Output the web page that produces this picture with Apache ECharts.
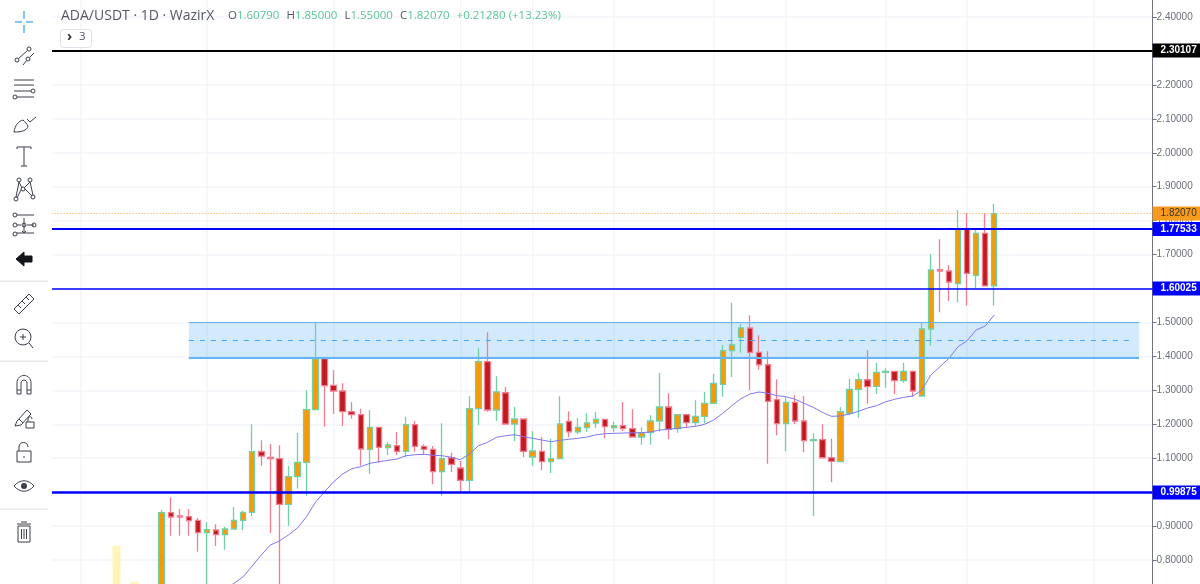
<!DOCTYPE html>
<html style="height: 100%">
<head>
  <meta charset="utf-8">
  <title>ADA/USDT</title>
</head>
<body style="height: 100%; margin: 0; background: #fff">
<div id="container" style="width: 1200px; height: 584px"></div>
<script src="https://cdn.jsdelivr.net/npm/echarts@6/dist/echarts.min.js"></script>
<script>
  // one slot per day, the first candles of the chart start at leadDays
  var leadDays = 12;
  var totalDays = 122;
  var days = [];
  for (var d = 0; d < totalDays; d++) days.push(String(d));

  var opens = [0.72,0.9395,0.9298,0.9277,0.9171,0.8806,0.8885,0.8747,0.8915,0.9171,0.9406,1.1192,1.1027,1.0986,0.9642,1.0456,1.0880,1.2430,1.3932,1.3149,1.2981,1.2371,1.2283,1.1263,1.1911,1.1310,1.1369,1.1204,1.1988,1.1351,1.1263,1.0603,1.1015,1.0712,1.0349,1.2459,1.3844,1.2421,1.2930,1.2008,1.2156,1.1036,1.1204,1.0898,1.0986,1.2088,1.1781,1.1899,1.2038,1.2147,1.1899,1.1958,1.1870,1.1625,1.1752,1.2097,1.2509,1.1870,1.2282,1.2047,1.2235,1.2618,1.3178,1.4168,1.4563,1.4837,1.4121,1.3755,1.2724,1.2017,1.2648,1.2097,1.1516,1.1546,1.1015,1.0898,1.2324,1.3030,1.3313,1.3119,1.3532,1.3561,1.3284,1.3561,1.2833,1.4807,1.6555,1.6516,1.6142,1.7763,1.6390,1.7627,1.6079];
  var closes = [0.9395,0.9268,0.9268,0.9159,0.8806,0.8894,0.8747,0.8915,0.9171,0.9406,1.1192,1.1065,1.0986,0.9642,1.0456,1.0880,1.2430,1.3932,1.3137,1.2981,1.2371,1.2283,1.1272,1.1911,1.1322,1.1390,1.1204,1.1988,1.1351,1.1263,1.0603,1.0986,1.0821,1.0349,1.2459,1.3844,1.2421,1.2951,1.2008,1.2156,1.1204,1.1213,1.0898,1.0986,1.2008,1.1781,1.1911,1.2038,1.2147,1.1929,1.1958,1.1870,1.1625,1.1752,1.2097,1.2509,1.1852,1.2282,1.2047,1.2235,1.2618,1.3208,1.4168,1.4336,1.4837,1.4121,1.3755,1.2677,1.2017,1.2648,1.2097,1.1516,1.1546,1.1015,1.0909,1.2371,1.3030,1.3313,1.3107,1.3532,1.3561,1.3284,1.3561,1.2981,1.4807,1.6546,1.6516,1.6192,1.7763,1.6449,1.7627,1.6079,1.8207];
  var lows = [0.71,0.8717,0.8717,0.8717,0.8246,0.72,0.8414,0.8305,0.8915,0.8876,0.9298,1.0780,0.8797,0.72,0.9012,1.0102,0.9895,1.2430,1.1928,1.2312,1.1949,1.2164,1.0780,1.0544,1.0868,1.1095,1.1095,1.1027,1.1192,1.1104,1.0232,0.9895,1.0594,0.9984,0.9984,1.1979,1.2371,1.2106,1.2008,1.1507,1.1036,1.0780,1.0644,1.0565,1.0986,1.1616,1.1714,1.1781,1.1890,1.1587,1.1772,1.1802,1.1625,1.1398,1.1398,1.1781,1.1557,1.1752,1.1899,1.1941,1.2029,1.2618,1.2813,1.3393,1.4109,1.3001,1.3608,1.0838,1.1675,1.1204,1.2008,1.1175,0.9298,1.0986,1.0291,1.0898,1.2265,1.2194,1.2607,1.2892,1.3078,1.2892,1.3225,1.2813,1.2833,1.4306,1.5300,1.5632,1.5594,1.5494,1.5995,1.6079,1.55];
  var highs = [0.9474,0.9848,0.9504,0.9504,0.9230,0.9112,0.9053,0.8982,0.9563,0.9454,1.2000,1.1528,1.1419,1.1381,1.0771,1.1743,1.3000,1.4993,1.3932,1.3590,1.3208,1.2648,1.2459,1.2421,1.1911,1.1478,1.1773,1.2214,1.2097,1.1410,1.1360,1.2029,1.1163,1.0918,1.2824,1.4239,1.4710,1.3414,1.3098,1.2518,1.2156,1.1793,1.1634,1.1575,1.2824,1.2383,1.2185,1.2323,1.2362,1.2147,1.2076,1.2657,1.2442,1.1911,1.2265,1.3511,1.2913,1.2282,1.2282,1.2707,1.2951,1.3482,1.4336,1.5582,1.4955,1.5211,1.4622,1.4150,1.3325,1.2795,1.2854,1.2833,1.1734,1.2000,1.1575,1.2500,1.3334,1.3511,1.4180,1.3815,1.3650,1.3561,1.3815,1.3590,1.5005,1.7008,1.7450,1.6693,1.8314,1.8216,1.7745,1.8216,1.85];

  // moving average, first value sits on the 8th candle
  var maValues = [0.7147,0.7315,0.7509,0.7825,0.8149,0.8443,0.8561,0.8738,0.8944,0.9277,0.9710,1.0014,1.0308,1.0535,1.0691,1.0750,1.0850,1.0898,1.0939,1.0977,1.1074,1.1104,1.1116,1.1086,1.1074,1.1027,1.0956,1.1124,1.1369,1.1469,1.1616,1.1664,1.1693,1.1634,1.1587,1.1537,1.1487,1.1528,1.1558,1.1587,1.1625,1.1690,1.1723,1.1734,1.1743,1.1752,1.1752,1.1773,1.1831,1.1852,1.1882,1.1911,1.1941,1.2000,1.2126,1.2324,1.2548,1.2754,1.2892,1.2951,1.2913,1.2842,1.2813,1.2736,1.2618,1.2500,1.2353,1.2235,1.2244,1.2303,1.2383,1.2480,1.2548,1.2662,1.2736,1.2795,1.2833,1.3010,1.3452,1.3697,1.3944,1.4286,1.4463,1.4778,1.4896,1.5220];
  var maStart = 7;

  var volumeDays = [7, 9];
  var volumeValues = [7.9, 2.0];

  var gridDays = [3, 17, 31, 45, 53, 62, 73, 81, 92, 101, 115];

  var zoneTop = 1.4995, zoneMid = 1.448, zoneBottom = 1.3962;
  var zoneFrom = '15', zoneTo = '120';

  var lastPrice = 1.8207;
  var blackLevel = 2.30107;
  var blueLevels = [1.77533, 1.60025, 0.99875];
  var blueWidths = [2, 1.5, 2.5];

  var candleData = [], maData = [], volumeData = [];
  for (var i = 0; i < totalDays; i++) {
    var k = i - leadDays;
    candleData.push(k >= 0 && k < opens.length ? [opens[k], closes[k], lows[k], highs[k]] : '-');
    var m = k - maStart;
    maData.push(m >= 0 && m < maValues.length ? maValues[m] : '-');
    var v = volumeDays.indexOf(i);
    volumeData.push(v >= 0 ? volumeValues[v] : '-');
  }

  function levelLine(value, color, width, textColor) {
    return {
      yAxis: value,
      lineStyle: { color: color, width: width, type: 'solid' },
      label: {
        show: true, position: 'end', distance: 0,
        formatter: value.toFixed(5),
        color: textColor, backgroundColor: color,
        fontFamily: 'Liberation Sans', fontSize: 10, fontWeight: 'bold',
        padding: [2, 6, 2, 8], lineHeight: 10
      }
    };
  }

  function segment(value, style) {
    return [
      { coord: [zoneFrom, value], lineStyle: style, label: { show: false } },
      { coord: [zoneTo, value] }
    ];
  }

  var priceLines = [
    levelLine(blackLevel, '#000000', 2, '#ffffff'),
    {
      yAxis: lastPrice,
      lineStyle: { color: '#f2a33a', width: 1, type: [1, 2] },
      label: {
        show: true, position: 'end', distance: 0, formatter: lastPrice.toFixed(5),
        color: '#3a3420', backgroundColor: '#f79a1d',
        fontFamily: 'Liberation Sans', fontSize: 10,
        padding: [2, 6, 2, 8], lineHeight: 10
      }
    }
  ];
  blueLevels.forEach(function (lv, n) {
    priceLines.push(levelLine(lv, '#0000ff', blueWidths[n], '#ffffff'));
  });
  priceLines.push(segment(zoneTop, { color: '#64b5f6', width: 1.2, type: 'solid' }));
  priceLines.push(segment(zoneBottom, { color: '#64b5f6', width: 2, type: 'solid' }));
  priceLines.push([
    { coord: [zoneFrom, zoneMid], lineStyle: { color: '#42a5f5', width: 1, type: [5, 6] }, label: { show: false } },
    { coord: ['119', zoneMid] }
  ]);

  // left toolbar icons
  function dot(x, y, r) {
    r = r || 2;
    return 'M' + (x - r) + ' ' + y + 'a' + r + ' ' + r + ' 0 1 0 ' + (2 * r) + ' 0a' + r + ' ' + r + ' 0 1 0 ' + (-2 * r) + ' 0';
  }
  var iconColor = '#3b3f4b';
  var toolbarIcons = [
    { y: 22, color: '#5cb3f2', w: 1.5, d: 'M-9 0H-2M2 0H9M0 -11V-3M0 3V11' },
    { y: 56, d: dot(-7, 4) + dot(5, -7) + dot(4, 3) + 'M-5.5 2.5L3.5 -5.5M-1 9L2.5 4.5M5.5 1.5L10 -3' },
    { y: 90, d: 'M-10 -10H10M-10 -5H10M-10 1H7' + dot(9, 1) + 'M-7 7H10' + dot(-9, 7) },
    { y: 124, d: 'M-10 8C-9 1 -5 -3 -1 -4C1 -2 3 0 4 2C3 7 -3 8 -10 8ZM3 -5L6 -2L12 -7' },
    { y: 157, d: 'M-7 -8V-10H7V-8M0 -10V9M-3 9H3' },
    { y: 190, d: dot(-5, -10) + dot(6, -10) + dot(-8, 9) + dot(9, 7) + dot(-1, -1) +
        'M-5 -8L-8 7M-5 -8L-2 -2M6 -8L0 -2M6 -8L9 5M1 -1L8 6M-3 0L-7 8' },
    { y: 225, d: 'M-7 -10H10M-7 0H-3M3 0H10M-7 8H10' + dot(-9, -10) + dot(-9, 0) + dot(0, 0) + dot(10, 0) + dot(-9, 9) +
        'M0 -7V8M-2 6L0 8L2 6' },
    { y: 259, fill: '#111318', d: 'M-8 0L0 -7V-3H8V3H0V7Z' },
    { y: 304, d: 'M-10 5L5 -10L10 -5L-5 10ZM-6 1L-3 4M-2 -3L1 0M2 -7L5 -4' },
    { y: 338, d: dot(-1, -1, 8) + 'M5 5L9 10M-1 -4V2M-4 -1H2' },
    { y: 385, d: 'M-7 9V-2C-7 -12 7 -12 7 -2V9H3V-2C3 -6 -3 -6 -3 -2V9ZM-7 5H-3M3 5H7' },
    { y: 418, d: 'M-9 8L-7 3L3 -8L7 -4L-3 7ZM-5 1L-1 5M2 10V4H10V10ZM4 4V1C4 -2 8 -2 8 1' },
    { y: 452, d: 'M-7 -1H7V10H-7ZM-5 -1V-5C-5 -11 4 -11 4 -5M0 4V6' },
    { y: 486, d: 'M-10 0C-4 -7 4 -7 10 0C4 7 -4 7 -10 0Z', extra: dot(0, 0, 3) },
    { y: 532, d: 'M-6 -6H6V10H-6ZM-7 -8H7M-3 -10H3M-2.5 -3V7M0 -3V7M2.5 -3V7' }
  ];

  // the graphic component has no plain path type, so each icon is registered as a shape
  var shapeCount = 0;
  function iconShape(pathData) {
    var name = 'toolIcon' + (shapeCount++);
    echarts.graphic.registerShape(name, echarts.graphic.extendPath(pathData, {}));
    return name;
  }

  var toolbar = [{
    type: 'rect', z: 100, silent: true,
    shape: { x: 0, y: 0, width: 52, height: 584 }, style: { fill: '#ffffff' }
  }];
  [281, 361, 509].forEach(function (y) {
    toolbar.push({
      type: 'rect', z: 101, silent: true,
      shape: { x: 0, y: y - 0.5, width: 48, height: 1.5 }, style: { fill: '#e9eaf0' }
    });
  });
  toolbarIcons.forEach(function (ic) {
    toolbar.push({
      type: iconShape(ic.d), z: 101, silent: true, x: 24, y: ic.y,
      style: { fill: ic.fill || 'none', stroke: ic.fill ? ic.fill : (ic.color || iconColor), lineWidth: ic.w || 1 }
    });
    if (ic.extra) {
      toolbar.push({
        type: iconShape(ic.extra), z: 101, silent: true, x: 24, y: ic.y,
        style: { fill: iconColor }
      });
    }
  });

  var green = '#5cc595';
  var header = [
    {
      type: 'text', z: 102, silent: true, x: 61, y: 9,
      style: { text: 'ADA/USDT · 1D · WazirX', fill: '#555862', font: '14px "Open Sans"' }
    },
    {
      type: 'text', z: 102, silent: true, x: 228, y: 10,
      style: {
        text: '{k|O}{v|1.60790}{s|   }{k|H}{v|1.85000}{s|   }{k|L}{v|1.55000}{s|   }{k|C}{v|1.82070}{s|   }{v|+0.21280 (+13.23%)}',
        rich: {
          k: { fill: '#555862', font: '11.5px "Open Sans"' },
          v: { fill: green, font: '11.5px "Open Sans"' },
          s: { font: '9px "Open Sans"' }
        }
      }
    },
    {
      type: 'rect', z: 102, silent: true,
      shape: { x: 60.5, y: 29.5, width: 31, height: 18, r: 3 },
      style: { fill: '#ffffff', stroke: '#dfe1e8', lineWidth: 1 }
    },
    {
      type: 'text', z: 103, silent: true, x: 67, y: 30,
      style: { text: '›', fill: '#333', font: 'bold 14px "Open Sans"' }
    },
    {
      type: 'text', z: 103, silent: true, x: 79, y: 31,
      style: { text: '3', fill: '#555862', font: '11.5px "Open Sans"' }
    }
  ];

  var myChart = echarts.init(document.getElementById('container'));
  myChart.setOption({
    animation: false,
    backgroundColor: '#ffffff',
    grid: { left: 48.6, right: 47.4, top: -16.94, bottom: -10, outerBoundsMode: 'none' },
    xAxis: {
      type: 'category',
      data: days,
      axisLine: { show: false },
      axisTick: { show: false },
      axisLabel: { show: false },
      splitLine: {
        show: true,
        alignWithLabel: true,
        interval: function (index) { return gridDays.indexOf(index) >= 0; },
        lineStyle: { color: '#f3f4fa', width: 1.5 }
      }
    },
    yAxis: [
      {
        type: 'value', position: 'right', scale: true,
        min: 0.7, max: 2.5, interval: 0.1,
        axisLine: { show: true, lineStyle: { color: '#6f7480', width: 1 } },
        axisTick: { show: true, length: 4, lineStyle: { color: '#6f7480' } },
        axisLabel: {
          margin: 4, color: '#6b6f7a',
          fontFamily: 'Liberation Sans', fontSize: 10,
          formatter: function (val) { return val.toFixed(5); }
        },
        splitLine: { show: true, lineStyle: { color: '#f3f4fa', width: 1.5 } }
      },
      { type: 'value', show: false, min: 0, max: 100, splitLine: { show: false } }
    ],
    graphic: toolbar.concat(header),
    series: [
      {
        name: 'Volume', type: 'bar', yAxisIndex: 1, data: volumeData,
        barWidth: 8, silent: true, z: 1,
        itemStyle: { color: '#fff5b8' }
      },
      {
        name: 'ADA/USDT', type: 'candlestick', data: candleData,
        barWidth: 6, z: 3, silent: true,
        itemStyle: {
          color: '#fb9905', color0: '#bf1b1f',
          borderColor: '#72d0a5', borderColor0: '#f27d8e', borderWidth: 1.3
        },
        markArea: {
          silent: true,
          itemStyle: { color: 'rgba(33,150,243,0.2)' },
          data: [[{ coord: [zoneFrom, zoneTop] }, { coord: [zoneTo, zoneBottom] }]]
        }
      },
      {
        name: 'MA', type: 'line', data: maData,
        showSymbol: false, silent: true, z: 4,
        lineStyle: { color: '#7f78f0', width: 1 }
      },
      {
        name: 'Levels', type: 'line', data: [], silent: true, z: 5,
        markLine: {
          silent: true, symbol: 'none', animation: false,
          precision: 5,
          data: priceLines
        }
      }
    ]
  });
</script>
</body>
</html>
